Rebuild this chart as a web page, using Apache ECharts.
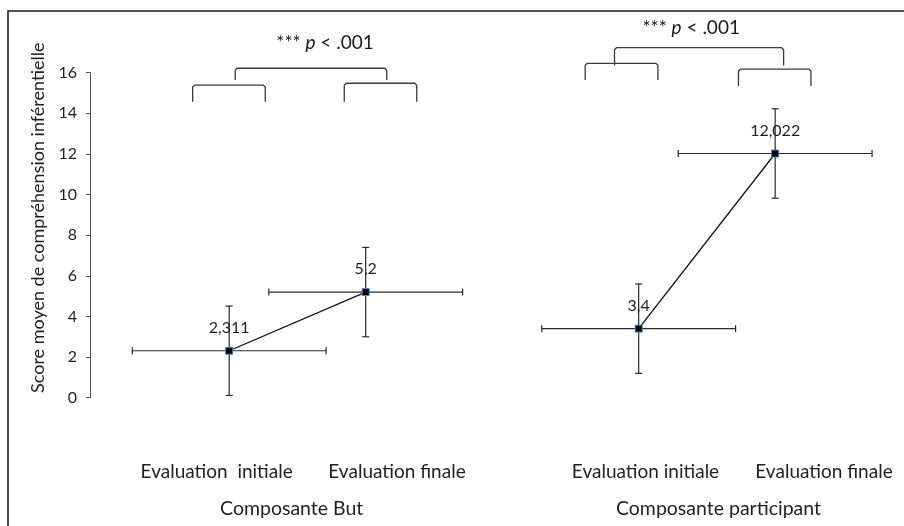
<!DOCTYPE html>
<html>
<head>
<meta charset="utf-8">
<script src="https://cdn.jsdelivr.net/npm/echarts@6/dist/echarts.min.js"></script>
<style>
  html, body { margin: 0; padding: 0; background: #fff; }
  #chart { width: 904px; height: 526px; }
</style>
</head>
<body>
<div id="chart"></div>
<script>
// ---------- data ----------
const categories = ['Evaluation  initiale', 'Evaluation finale', 'Evaluation initiale', 'Evaluation finale'];
const groupNames = ['Composante But', 'Composante participant'];
const slotPositions = [0, 1, 3, 4];          // category slot of each point
const meanScores = [2.311, 5.2, 3.4, 12.022];
const yErrors = [2.2, 2.2, 2.2, 2.2];
const xErrors = [0.71, 0.71, 0.71, 0.71];
const yTickMin = 0, yTickMax = 16, yTickStep = 2;
const yAxisTitle = 'Score moyen de compréhension inférentielle';
const significanceText = ['*** {i|p} < .001', '*** {i|p} < .001'];

// ---------- layout / annotation geometry (in axis units) ----------
const brackets = [
  // [x1, x2, yTop, yLegEnd]
  [-0.268, 0.264, 15.39, 14.57],
  [0.843, 1.374, 15.48, 14.57],
  [0.044, 1.154, 16.22, 15.64],
  [2.823, 4.062, 17.23, 16.36],
  [2.608, 3.141, 16.46, 15.64],
  [3.731, 4.262, 16.18, 15.35]
];
const sigAnchors = [[0.702, 17.46], [3.385, 18.19]];

const FONT = 'Lato, "Open Sans", sans-serif';
const INK = '#1f1f1f';

const chart = echarts.init(document.getElementById('chart'), null, { renderer: 'canvas' });

const pointData = slotPositions.map((x, i) => [x, meanScores[i]]);
const errData = slotPositions.map((x, i) => [x, meanScores[i], xErrors[i], yErrors[i]]);

function fmtComma(v) { return String(v).replace('.', ','); }

const option = {
  backgroundColor: '#fff',
  animation: false,
  grid: { left: 90, right: 6, top: 72.7, bottom: 128.3, containLabel: false },
  xAxis: { type: 'value', min: -1.02, max: 4.9, show: false },
  yAxis: {
    type: 'value', min: yTickMin, max: yTickMax, interval: yTickStep,
    name: yAxisTitle, nameLocation: 'middle', nameRotate: 90, nameGap: 42,
    nameTextStyle: { fontFamily: FONT, fontSize: 18, color: INK, padding: [0, 0, 0, 35] },
    axisLine: { show: true, onZero: false, lineStyle: { color: '#555', width: 1 } },
    axisTick: { show: true, length: 4, lineStyle: { color: '#555' } },
    axisLabel: { fontFamily: FONT, fontSize: 16, color: INK, margin: 13 },
    splitLine: { show: false }
  },
  graphic: [
    { type: 'rect', z: -1, shape: { x: 8, y: 11, width: 1000, height: 1000 },
      style: { fill: 'transparent', stroke: '#1a1a1a', lineWidth: 1.6 } },
    ...[[216.7, 472], [397, 472], [645.5, 472], [824, 472]].map((p, i) => ({
      type: 'text', x: p[0], y: p[1],
      style: { text: categories[i], fontFamily: FONT, fontSize: 19, fill: INK, align: 'center', verticalAlign: 'middle' }
    })),
    ...[[291.7, 509], [718.5, 509]].map((p, i) => ({
      type: 'text', x: p[0], y: p[1],
      style: { text: groupNames[i], fontFamily: FONT, fontSize: 19.5, fill: INK, align: 'center', verticalAlign: 'middle' }
    }))
  ],
  series: [
    {
      type: 'custom', name: 'errors', z: 1, silent: true,
      data: errData,
      renderItem: function (params, api) {
        const x = api.value(0), y = api.value(1), ex = api.value(2), ey = api.value(3);
        const top = api.coord([x, y + ey]), bot = api.coord([x, y - ey]);
        const lft = api.coord([x - ex, y]), rgt = api.coord([x + ex, y]);
        const c = 3.5;
        const st = { stroke: '#2b2b2b', lineWidth: 1.2 };
        const ln = (x1, y1, x2, y2) => ({ type: 'line', shape: { x1, y1, x2, y2 }, style: st });
        return { type: 'group', children: [
          ln(top[0], top[1], bot[0], bot[1]),
          ln(top[0] - c, top[1], top[0] + c, top[1]),
          ln(bot[0] - c, bot[1], bot[0] + c, bot[1]),
          ln(lft[0], lft[1], rgt[0], rgt[1]),
          ln(lft[0], lft[1] - c, lft[0], lft[1] + c),
          ln(rgt[0], rgt[1] - c, rgt[0], rgt[1] + c)
        ] };
      }
    },
    {
      type: 'custom', name: 'brackets', z: 1, silent: true,
      data: brackets,
      renderItem: function (params, api) {
        const a = api.coord([api.value(0), api.value(2)]);
        const b = api.coord([api.value(1), api.value(2)]);
        const e = api.coord([api.value(0), api.value(3)]);
        const r = 2;
        return { type: 'polyline', shape: { points: [
          [a[0], e[1]], [a[0], a[1] + r], [a[0] + r, a[1]], [b[0] - r, b[1]], [b[0], b[1] + r], [b[0], e[1]]
        ] }, style: { stroke: '#3a3a3a', lineWidth: 1.3, fill: null } };
      }
    },
    {
      type: 'custom', name: 'significance', z: 1, silent: true,
      data: sigAnchors.map((p, i) => [p[0], p[1], i]),
      renderItem: function (params, api) {
        const c = api.coord([api.value(0), api.value(1)]);
        return { type: 'text', x: c[0], y: c[1], style: {
          text: significanceText[api.value(2)], fontFamily: FONT, fontSize: 19, fill: '#1a1a1a',
          align: 'center', verticalAlign: 'middle',
          rich: { i: { fontStyle: 'italic', fontFamily: FONT, fontSize: 19, fill: '#1a1a1a' } }
        } };
      }
    },
    ...[[0, 2], [2, 4]].map(([s, e]) => ({
      type: 'line', z: 3,
      data: pointData.slice(s, e),
      symbol: 'rect', symbolSize: 7,
      itemStyle: { color: '#000', borderColor: '#4f81bd', borderWidth: 1 },
      lineStyle: { color: '#111', width: 1.3 },
      label: { show: true, position: 'top', distance: 11, fontFamily: FONT, fontSize: 16, color: INK,
        formatter: p => fmtComma(p.value[1]) }
    }))
  ]
};

chart.setOption(option);
</script>
</body>
</html>
